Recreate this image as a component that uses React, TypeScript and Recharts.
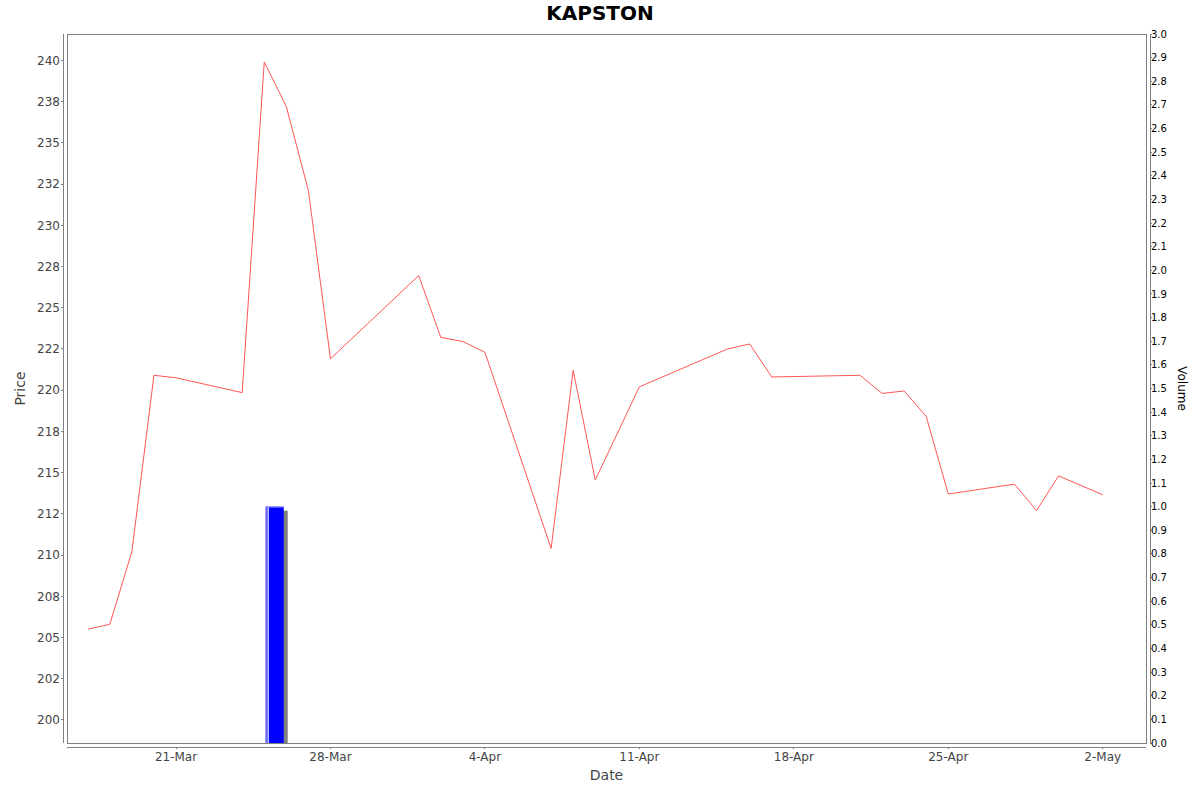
import React from "react"
import { ComposedChart, Line, Bar, XAxis, YAxis, ReferenceArea } from "recharts"

// trading days, closing price and volume
const dates = [
  "2025-03-17", "2025-03-18", "2025-03-19", "2025-03-20", "2025-03-21",
  "2025-03-24", "2025-03-25", "2025-03-26", "2025-03-27", "2025-03-28",
  "2025-04-01", "2025-04-02", "2025-04-03", "2025-04-04",
  "2025-04-07", "2025-04-08", "2025-04-09", "2025-04-11",
  "2025-04-15", "2025-04-16", "2025-04-17",
  "2025-04-21", "2025-04-22", "2025-04-23", "2025-04-24", "2025-04-25",
  "2025-04-28", "2025-04-29", "2025-04-30", "2025-05-02",
]
const prices = [
  205.5, 205.8, 210.2, 220.9, 220.75,
  219.85, 239.9, 237.2, 232.1, 221.9,
  226.95, 223.2, 222.95, 222.3,
  210.4, 221.2, 214.55, 220.2,
  222.5, 222.8, 220.8,
  220.9, 219.8, 219.95, 218.4, 213.7,
  214.3, 212.7, 214.8, 213.65,
]
const volumes = [
  0, 0, 0, 0, 0,
  0, 1.0, 0, 0, 0,
  0, 0, 0, 0,
  0, 0, 0, 0,
  0, 0, 0,
  0, 0, 0, 0, 0,
  0, 0, 0, 0,
]

const dateTicks = ["2025-03-21", "2025-03-28", "2025-04-04", "2025-04-11", "2025-04-18", "2025-04-25", "2025-05-02"]
const priceTicks = [200, 202.5, 205, 207.5, 210, 212.5, 215, 217.5, 220, 222.5, 225, 227.5, 230, 232.5, 235, 237.5, 240]
const priceTickLabels = ["200", "202", "205", "208", "210", "212", "215", "218", "220", "222", "225", "228", "230", "232", "235", "238", "240"]
const volumeTicks = [
  0, 0.1, 0.2, 0.3, 0.4, 0.5, 0.6, 0.7, 0.8, 0.9,
  1.0, 1.1, 1.2, 1.3, 1.4, 1.5, 1.6, 1.7, 1.8, 1.9,
  2.0, 2.1, 2.2, 2.3, 2.4, 2.5, 2.6, 2.7, 2.8, 2.9, 3.0,
]
const MONTHS = ["Jan", "Feb", "Mar", "Apr", "May", "Jun", "Jul", "Aug", "Sep", "Oct", "Nov", "Dec"]

const DAY = 86400000
const toDay = (s: string) => Date.parse(s + "T00:00:00Z") / DAY
const fmtDay = (d: number) => {
  const dt = new Date(Math.round(d) * DAY)
  return `${dt.getUTCDate()}-${MONTHS[dt.getUTCMonth()]}`
}

const rows = dates.map((d, i) => ({ t: toDay(d), price: prices[i], volume: volumes[i] }))
const xDomain = [toDay(dates[0]) - 0.94, toDay(dates[dates.length - 1]) + 1.96]
const priceDomain = [198.6, 241.6]

const AXIS = "#808080"
const FONT = '"DejaVu Sans", sans-serif'

// volume bar covers its whole day, drawn with a drop shadow like the original
function VolumeBar(props: any) {
  const { x, y, width, height } = props
  if (!height || height <= 0) return <g />
  const start = x + width / 2
  const bx = start + 1.5
  const bw = 18
  return (
    <g>
      <rect x={bx + 4} y={y + 4} width={bw} height={height - 4} fill="#808080" />
      <rect x={bx} y={y} width={bw} height={height} fill="#0000ff" />
      <rect x={bx} y={y} width={2} height={height} fill="#6a6aff" />
      <rect x={bx + 2} y={y} width={1} height={height} fill="#ffffff" />
      <rect x={bx} y={y} width={bw} height={1} fill="#7a7aff" />
    </g>
  )
}

function AxisTitle(props: any) {
  const { viewBox, text, offX, offY, rot, size = 14, color = "#444" } = props
  const x = offX === "center" ? viewBox.x + viewBox.width / 2 : viewBox.x + offX
  const y = offY === "center" ? viewBox.y + viewBox.height / 2 : viewBox.y + offY
  return (
    <text
      x={x}
      y={y}
      textAnchor="middle"
      dominantBaseline={rot ? "central" : "auto"}
      transform={rot ? `rotate(${rot} ${x} ${y})` : undefined}
      fontSize={size}
      fill={color}
      fontFamily={FONT}
    >
      {text}
    </text>
  )
}

export default function App() {
  return (
    <div style={{ position: "absolute", left: 0, top: 0, width: 1200, height: 792, background: "#fff", fontFamily: FONT }}>
      <style>{`
        .price-axis { transform: translate(-4px, 0px); }
        .vol-axis { transform: translate(4px, 0px); }
        .date-axis { transform: translate(0px, 4px); }
        .recharts-cartesian-axis-line, .recharts-cartesian-axis-tick-line, .plot-frame { shape-rendering: crispEdges; }
      `}</style>
      <div
        style={{
          position: "absolute",
          left: 0,
          top: 3,
          width: 1200,
          textAlign: "center",
          fontWeight: "bold",
          fontSize: 20,
          lineHeight: "20px",
          color: "#000",
        }}
      >
        KAPSTON
      </div>
      <ComposedChart width={1200} height={792} data={rows} margin={{ top: 34, right: 0, bottom: 0, left: 0 }}>
        <XAxis
          className="date-axis"
          dataKey="t"
          type="number"
          domain={xDomain}
          allowDataOverflow
          ticks={dateTicks.map(toDay)}
          tickFormatter={fmtDay}
          interval={0}
          height={49}
          stroke={AXIS}
          tickSize={2}
          tickMargin={7}
          tick={{ fontSize: 12, fill: "#444", fontFamily: FONT }}
          label={<AxisTitle text="Date" offX="center" offY={33} />}
        />
        <YAxis
          className="price-axis"
          yAxisId="price"
          orientation="left"
          type="number"
          domain={priceDomain}
          allowDataOverflow
          ticks={priceTicks}
          tickFormatter={(v: number) => priceTickLabels[priceTicks.indexOf(v)] ?? String(v)}
          interval={0}
          width={67}
          stroke={AXIS}
          tickSize={2}
          tickMargin={5}
          tick={{ fontSize: 12, fill: "#444", fontFamily: FONT }}
          label={<AxisTitle text="Price" offX={24} offY="center" rot={-90} />}
        />
        <YAxis
          className="vol-axis"
          yAxisId="vol"
          orientation="right"
          type="number"
          domain={[0, 3]}
          allowDataOverflow
          ticks={volumeTicks}
          tickFormatter={(v: number) => v.toFixed(1)}
          interval={0}
          width={54}
          stroke={AXIS}
          tickSize={2}
          tickMargin={3}
          tick={{ fontSize: 10, fill: "#000", fontFamily: FONT }}
          label={<AxisTitle text="Volume" offX={32} offY="center" rot={90} size={12} color="#000" />}
        />
        <ReferenceArea
          className="plot-frame"
          yAxisId="price"
          x1={xDomain[0]}
          x2={xDomain[1]}
          y1={priceDomain[0]}
          y2={priceDomain[1]}
          ifOverflow="visible"
          fill="none"
          stroke={AXIS}
          strokeWidth={1}
          shapeRendering="crispEdges"
        />
        <Bar yAxisId="vol" dataKey="volume" barSize={22} shape={<VolumeBar />} isAnimationActive={false} />
        <Line
          yAxisId="price"
          type="linear"
          dataKey="price"
          stroke="#ff5555"
          strokeWidth={1}
          dot={false}
          activeDot={false}
          isAnimationActive={false}
        />
      </ComposedChart>
    </div>
  )
}
